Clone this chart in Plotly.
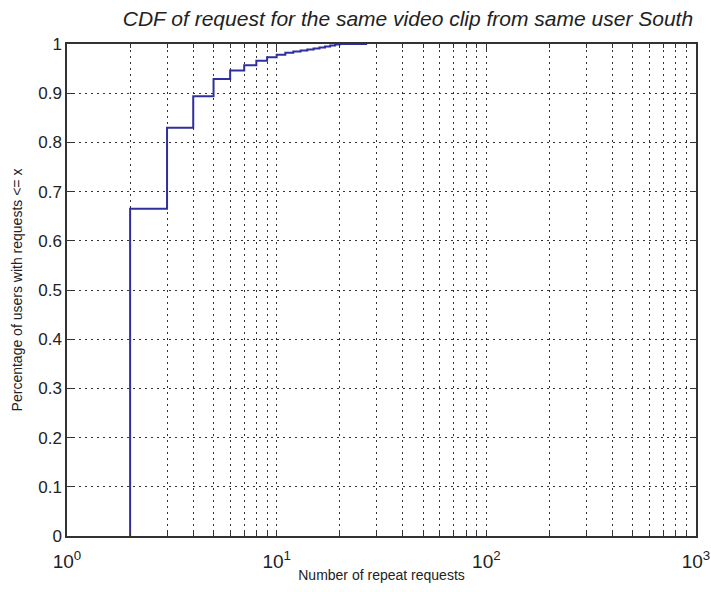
import numpy as np
import plotly.graph_objects as go

# Empirical CDF of repeat requests (step levels at each request count)
repeat_counts = [2, 2, 3, 4, 5, 6, 7, 8, 9, 10, 11, 12, 13, 14, 15, 16, 17, 18, 19, 20, 27]
cdf_levels = [0.0, 0.665, 0.83, 0.894, 0.929, 0.946, 0.957, 0.966, 0.973, 0.978,
              0.982, 0.985, 0.987, 0.989, 0.991, 0.993, 0.995, 0.997, 0.999, 1.0, 1.0]

x_major = [1, 10, 100, 1000]
x_major_text = ["10<sup>0</sup>", "10<sup>1</sup>", "10<sup>2</sup>", "10<sup>3</sup>"]
x_minor = [m * d for d in (1, 10, 100) for m in range(2, 10)]
y_ticks = [0, 0.1, 0.2, 0.3, 0.4, 0.5, 0.6, 0.7, 0.8, 0.9, 1]
y_tick_text = ["0", "0.1", "0.2", "0.3", "0.4", "0.5", "0.6", "0.7", "0.8", "0.9", "1"]

font_family = "Liberation Sans, Arial, sans-serif"
dot_grid = "2px,4px"

fig = go.Figure()
fig.add_trace(go.Scatter(
    x=repeat_counts, y=cdf_levels, mode="lines",
    line=dict(color="#2f2f9e", width=2, shape="hv"),
    showlegend=False, hoverinfo="x+y",
))

fig.update_layout(
    width=711, height=592,
    margin=dict(l=67, r=15, t=44, b=56),
    paper_bgcolor="white", plot_bgcolor="white",
    font=dict(family=font_family, color="#222222"),
    title=dict(
        text="<i>CDF of request for the same video clip from same user South</i>",
        x=0.542, xref="paper", xanchor="center",
        y=1 - 19 / 592, yref="container", yanchor="middle",
        font=dict(size=21, family=font_family, color="#222222"),
    ),
)

fig.update_xaxes(
    type="log", range=[0, 3], automargin=False,
    tickvals=x_major, ticktext=x_major_text, ticklabelstandoff=7,
    tickfont=dict(size=19), ticks="inside", ticklen=6, tickcolor="#333",
    showline=True, linecolor="#333", linewidth=1.5, mirror="ticks",
    showgrid=True, gridcolor="#333", griddash=dot_grid, gridwidth=1,
    minor=dict(tickvals=x_minor, ticks="inside", ticklen=4, tickcolor="#333",
               showgrid=True, gridcolor="#333", griddash=dot_grid, gridwidth=1),
    zeroline=False,
    title=dict(text="Number of repeat requests", font=dict(size=14), standoff=0),
)

fig.update_yaxes(
    range=[0, 1], automargin=False, tickvals=y_ticks, ticktext=y_tick_text,
    tickfont=dict(size=17), ticks="inside", ticklen=6, tickcolor="#333",
    showline=True, linecolor="#333", linewidth=1.5, mirror="ticks",
    showgrid=True, gridcolor="#333", griddash=dot_grid, gridwidth=1,
    zeroline=False,
    title=dict(text="Percentage of users with requests <= x", font=dict(size=14), standoff=12),
)

fig.write_html("out.html")
